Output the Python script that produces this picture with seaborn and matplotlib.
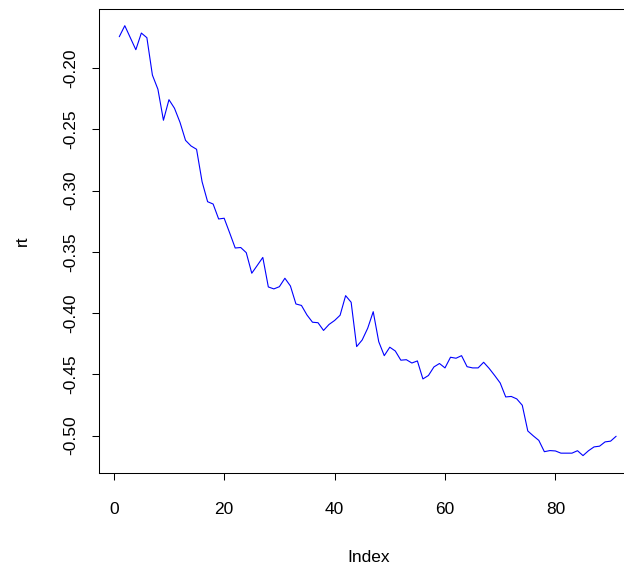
import matplotlib
matplotlib.use("Agg")
import matplotlib.pyplot as plt
import numpy as np
import pandas as pd
import seaborn as sns

# ---- data ----
rt = [
    -0.1743, -0.1653, -0.1751, -0.1849, -0.1713, -0.1751, -0.2056, -0.2172, -0.2425, -0.2257,
    -0.2327, -0.2442, -0.2589, -0.2635, -0.2662, -0.2927, -0.3090, -0.3109, -0.3231, -0.3225,
    -0.3345, -0.3468, -0.3464, -0.3506, -0.3674, -0.3610, -0.3545, -0.3786, -0.3802, -0.3784,
    -0.3715, -0.3778, -0.3925, -0.3937, -0.4015, -0.4074, -0.4078, -0.4141, -0.4092, -0.4060,
    -0.4017, -0.3857, -0.3911, -0.4273, -0.4219, -0.4123, -0.3988, -0.4233, -0.4347, -0.4278,
    -0.4309, -0.4384, -0.4380, -0.4407, -0.4390, -0.4537, -0.4509, -0.4439, -0.4411, -0.4447,
    -0.4360, -0.4368, -0.4347, -0.4437, -0.4447, -0.4447, -0.4401, -0.4451, -0.4509, -0.4570,
    -0.4684, -0.4680, -0.4700, -0.4752, -0.4962, -0.5002, -0.5039, -0.5131, -0.5122, -0.5125,
    -0.5143, -0.5143, -0.5143, -0.5123, -0.5163, -0.5123, -0.5092, -0.5086, -0.5051, -0.5045,
    -0.5005,
]
index = list(range(1, len(rt) + 1))

x_ticks = [0, 20, 40, 60, 80]
x_tick_labels = ["0", "20", "40", "60", "80"]
y_ticks = [-0.50, -0.45, -0.40, -0.35, -0.30, -0.25, -0.20]
y_tick_labels = ["-0.50", "-0.45", "-0.40", "-0.35", "-0.30", "-0.25", "-0.20"]
x_label = "Index"
y_label = "rt"

# ---- style ----
sns.set_theme(style="white")
plt.rcParams["font.family"] = ["Liberation Sans", "DejaVu Sans"]
plt.rcParams["axes.unicode_minus"] = False

W, H = 624, 570
fig = plt.figure(figsize=(W / 100, H / 100), dpi=100)
fig.patch.set_facecolor("white")

# plot region in pixels (right edge lies beyond the cropped image, as in reference)
left, right, top, bottom = 99.4, 636.0, 8.5, 472.8
ax = fig.add_axes([left / W, 1 - bottom / H, (right - left) / W, (bottom - top) / H])

df = pd.DataFrame({"Index": index, "rt": rt})
sns.lineplot(data=df, x="Index", y="rt", ax=ax, color="#0000FF", linewidth=0.8)

# R-style axis ranges (4% extension)
n = len(rt)
xr = n - 1
ax.set_xlim(1 - 0.04 * xr, n + 0.04 * xr)
ymin, ymax = min(rt), max(rt)
yr = ymax - ymin
ax.set_ylim(ymin - 0.04 * yr, ymax + 0.04 * yr)

ax.set_xticks(x_ticks)
ax.set_xticklabels(x_tick_labels)
ax.set_yticks(y_ticks)
ax.set_yticklabels(y_tick_labels, rotation=90, va="center")

for s in ax.spines.values():
    s.set_visible(True)
    s.set_color("black")
    s.set_linewidth(0.75)

ax.tick_params(axis="both", direction="out", length=5, width=0.75, colors="black",
               labelsize=12.5, bottom=True, left=True, top=False, right=False)
ax.tick_params(axis="x", pad=16)
ax.tick_params(axis="y", pad=10)

ax.set_xlabel(x_label, fontsize=12.5, color="black")
ax.set_ylabel(y_label, fontsize=12.5, color="black")
axw = right - left
axh = bottom - top
ax.xaxis.set_label_coords((369 - left) / axw, (bottom - 557) / axh)
ax.xaxis.label.set_va("center")
ax.yaxis.set_label_coords((22 - left) / axw, 0.5)
ax.yaxis.label.set_va("center")
ax.grid(False)

fig.savefig("out.png", dpi=100, facecolor="white")
